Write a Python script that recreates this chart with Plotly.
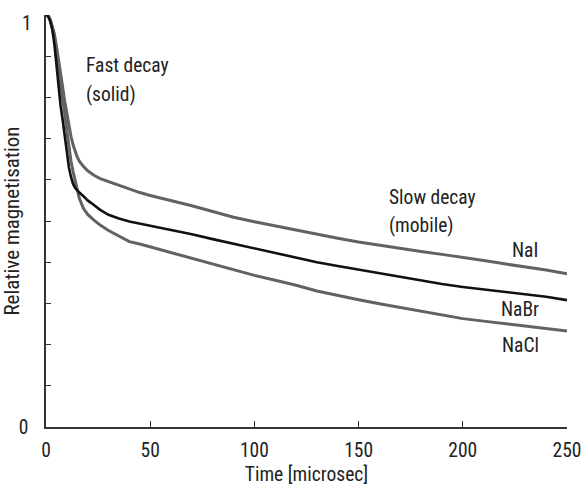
import plotly.graph_objects as go

time_us = [0, 1, 2, 3, 4, 5, 6, 7, 8, 9, 10, 11, 12, 13, 14, 15, 16, 18, 20, 23, 26, 30, 35,
           40, 45, 50, 60, 70, 80, 90, 100, 110, 120, 130, 140, 150, 160, 170, 180, 190,
           200, 210, 220, 230, 240, 250]

nai = [1.0, 0.998, 0.99, 0.975, 0.955, 0.925, 0.895, 0.86, 0.825, 0.79, 0.76, 0.73, 0.705,
       0.685, 0.668, 0.655, 0.645, 0.632, 0.622, 0.611, 0.603, 0.596, 0.587,
       0.577, 0.569, 0.562, 0.550, 0.537, 0.523, 0.509, 0.498, 0.488, 0.478, 0.467, 0.458,
       0.449, 0.441, 0.433, 0.426, 0.419, 0.412, 0.404, 0.396, 0.389, 0.381, 0.372]

nabr = [1.0, 0.997, 0.985, 0.965, 0.93, 0.88, 0.82, 0.78, 0.745, 0.705, 0.665, 0.63, 0.607,
        0.59, 0.58, 0.574, 0.569, 0.560, 0.550, 0.539, 0.527, 0.515, 0.506,
        0.499, 0.494, 0.489, 0.479, 0.468, 0.456, 0.445, 0.434, 0.423, 0.412, 0.400, 0.391,
        0.382, 0.373, 0.365, 0.356, 0.347, 0.340, 0.334, 0.328, 0.322, 0.316, 0.308]

nacl = [1.0, 0.998, 0.988, 0.97, 0.945, 0.91, 0.87, 0.835, 0.80, 0.76, 0.72, 0.68, 0.645,
        0.62, 0.60, 0.575, 0.555, 0.53, 0.516, 0.502, 0.49, 0.477, 0.463,
        0.450, 0.444, 0.437, 0.423, 0.410, 0.395, 0.381, 0.368, 0.356, 0.344, 0.330, 0.319,
        0.309, 0.299, 0.290, 0.280, 0.271, 0.263, 0.257, 0.251, 0.245, 0.239, 0.233]

y_tickvals = [0, 0.1, 0.2, 0.3, 0.4, 0.5, 0.6, 0.7, 0.8, 0.9, 1.0]
y_ticktext = ["0", "", "", "", "", "", "", "", "", "", ""]
x_tickvals = [0, 50, 100, 150, 200, 250]

FONT = "Liberation Sans Narrow, Roboto Condensed, DejaVu Sans Condensed, Liberation Sans, sans-serif"
GRAY = "#626262"
FS = 19.5

fig = go.Figure()
fig.add_trace(go.Scatter(x=time_us, y=nai, mode="lines", name="NaI",
                         line=dict(color=GRAY, width=3), cliponaxis=False))
fig.add_trace(go.Scatter(x=time_us, y=nacl, mode="lines", name="NaCl",
                         line=dict(color=GRAY, width=3), cliponaxis=False))
fig.add_trace(go.Scatter(x=time_us, y=nabr, mode="lines", name="NaBr",
                         line=dict(color="#111111", width=2.6), cliponaxis=False))

annots = [
    ("Fast decay", 18.2, 0.877, "left"),
    ("(solid)", 18.2, 0.806, "left"),
    ("Slow decay", 163.6, 0.556, "left"),
    ("(mobile)", 163.6, 0.488, "left"),
    ("NaI", 229.8, 0.428, "center"),
    ("NaBr", 227.4, 0.284, "center"),
    ("NaCl", 227.9, 0.197, "center"),
]
for txt, ax, ay, anc in annots:
    fig.add_annotation(x=ax, y=ay, text=txt, showarrow=False, xanchor=anc, yanchor="middle",
                       font=dict(family=FONT, size=FS, color="#222"))

# top y-axis label "1" sits slightly below the axis end in the original
fig.add_annotation(xref="paper", yref="y", x=0, y=1.0, text="1", showarrow=False,
                   xanchor="right", yanchor="middle", xshift=-12, yshift=-8,
                   font=dict(family=FONT, size=FS, color="#222"))

fig.update_layout(
    width=581, height=488,
    margin=dict(l=46, r=14, t=15, b=61),
    paper_bgcolor="white", plot_bgcolor="white",
    showlegend=False,
    font=dict(family=FONT, size=FS, color="#222"),
    xaxis=dict(range=[0, 250], tickvals=x_tickvals, ticks="inside", ticklen=6, tickwidth=1.3,
               tickcolor="#333", showline=True, linecolor="#333", linewidth=1.6,
               showgrid=False, zeroline=False, ticklabelstandoff=5, automargin=False,
               ticklabeloverflow="allow",
               title=dict(text="Time [microsec]", standoff=6, font=dict(size=FS))),
    yaxis=dict(range=[0, 1], tickvals=y_tickvals, ticktext=y_ticktext, ticks="inside",
               ticklen=5, tickwidth=1.3, tickcolor="#333", showline=True, linecolor="#333",
               linewidth=1.6, showgrid=False, zeroline=False, ticklabelstandoff=12,
               automargin=False, ticklabeloverflow="allow",
               title=dict(text="Relative magnetisation", standoff=0, font=dict(size=21))),
)

fig.write_html("out.html")
